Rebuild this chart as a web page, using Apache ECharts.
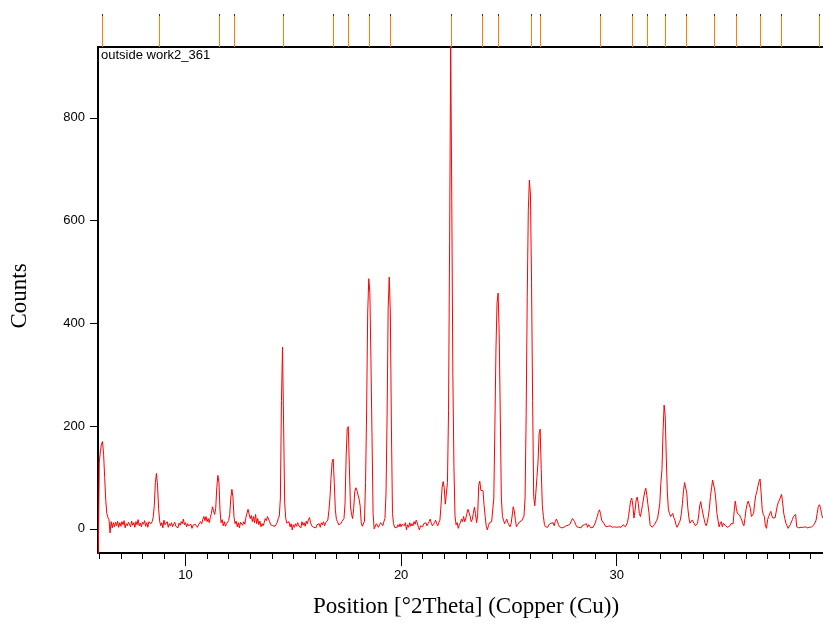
<!DOCTYPE html>
<html>
<head>
<meta charset="utf-8">
<script src="https://cdn.jsdelivr.net/npm/echarts@6/dist/echarts.min.js"></script>
<style>
html,body{margin:0;padding:0;background:#fff;}
#chart{width:823px;height:625px;}
</style>
</head>
<body>
<div id="chart"></div>
<script>
// Scan: start angle and step of the diffractometer (°2Theta)
const twoThetaStart = 5.95;
const twoThetaStep = 0.05;
// Counts, one value per step
const counts = [
-60,130,150,165,170,145,100,55,30,22,18,-8,14,2,12,4,13,6,15,3,
12,5,14,8,16,2,10,6,13,9,4,15,7,12,3,14,8,18,6,11,
4,13,9,16,5,12,3,14,11,10,14,22,45,90,108,85,40,15,6,12,
2,17,8,5,14,3,10,6,12,4,9,13,5,8,2,11,7,14,10,19,
8,12,4,10,6,3,9,1,7,4,9,6,3,8,11,14,10,18,24,16,
24,14,20,12,22,30,43,35,28,40,80,104,90,35,12,18,6,14,5,10,
8,16,28,60,77,62,22,10,15,4,12,2,13,11,7,14,9,22,30,38,
35,20,26,14,24,12,28,10,20,8,15,4,10,6,12,20,16,24,26,14,
8,10,6,9,5,8,12,20,25,60,250,354,200,50,20,11,8,14,4,10,
-2,8,3,10,5,12,6,9,2,14,7,12,5,15,10,18,22,12,6,9,
3,6,2,8,5,10,3,12,8,14,6,12,10,17,35,60,100,130,136,90,
37,18,14,8,6,10,14,12,20,50,140,195,199,120,45,28,20,40,72,80,
75,66,58,45,12,5,4,15,90,230,420,487,460,330,180,30,0,-2,10,8,
3,8,12,11,6,14,20,70,220,430,490,420,200,30,10,3,5,2,8,4,
10,4,9,10,6,12,-2,8,3,12,5,10,6,14,9,17,12,3,-2,6,
8,4,10,7,12,6,10,14,19,11,6,9,12,17,10,6,12,17,45,80,
92,80,48,45,90,230,560,940,640,300,120,25,8,12,1,8,12,19,14,24,
14,20,30,38,40,25,14,18,30,42,30,12,25,85,93,75,72,74,45,24,
5,-2,6,12,9,14,17,60,200,350,440,459,380,220,60,24,17,10,14,19,
12,8,4,10,25,43,35,17,4,8,10,14,11,16,19,25,60,220,450,620,
679,650,480,250,63,45,70,100,130,185,194,115,45,24,8,4,6,3,8,5,
11,8,12,6,14,19,15,8,4,6,2,5,3,1,6,3,7,4,10,16,
20,23,14,8,4,7,3,6,2,6,4,8,6,10,3,8,5,2,4,3,
6,11,18,24,32,37,30,17,14,11,8,4,1,5,8,6,3,3,2,4,
2,3,1,4,3,3,6,8,5,4,7,12,24,40,55,60,45,21,35,55,
62,50,30,24,35,47,60,72,79,65,47,30,8,5,3,6,8,11,16,21,
35,50,90,115,190,241,220,140,70,37,30,24,26,30,22,17,8,3,6,12,
17,30,50,75,90,93,70,40,21,11,14,17,19,10,6,8,11,25,45,53,
40,37,20,11,6,12,24,40,63,80,95,97,75,56,30,17,4,10,14,4,
11,8,6,6,3,1,6,10,12,10,35,54,40,30,28,27,22,17,10,6,
20,38,48,54,56,40,24,26,30,50,65,72,83,92,97,70,37,28,24,5,
1,18,24,30,34,25,21,24,22,21,45,52,56,62,67,50,30,20,11,6,
1,4,8,11,18,24,26,28,4,3,2,4,3,5,3,6,4,3,2,1,
3,2,4,4,8,12,17,30,43,47,42,30,21
];
// Reference pattern line positions (°2Theta)
const refPeaks = [6.12, 8.75, 11.53, 12.23, 14.53, 16.84, 17.53, 18.52, 19.47, 22.31,
  23.76, 24.49, 26.04, 26.45, 29.22, 30.70, 31.39, 32.24, 33.20, 34.50, 35.54, 36.66, 37.61, 39.39];
// Axis ticks
const yTicks = [0, 200, 400, 600, 800];
const xMajorTicks = [10, 20, 30];
const xMinorTicks = [6,7,8,9,11,12,13,14,15,16,17,18,19,21,22,23,24,25,26,27,28,29,31,32,33,34,35,36,37,38,39];
const xRange = [5.94, 39.57];
const yRange = [-47, 938];
const sampleName = 'outside work2_361';
const xTitle = 'Position [°2Theta] (Copper (Cu))';
const yTitle = 'Counts';

const lineData = counts.map((c, i) => [+(twoThetaStart + i * twoThetaStep).toFixed(3), c]);

const chart = echarts.init(document.getElementById('chart'), null, {renderer: 'canvas'});
const sans = 'Liberation Sans, Arial, sans-serif';
const serif = 'Liberation Serif, Times New Roman, serif';

chart.setOption({
  animation: false,
  backgroundColor: '#fff',
  grid: [
    {left: 98, top: 47, width: 726, height: 506},
    {left: 98, top: 14, width: 726, height: 33}
  ],
  xAxis: [
    {gridIndex: 0, type: 'value', min: xRange[0], max: xRange[1], position: 'bottom',
      axisLine: {onZero: false, lineStyle: {color: '#000', width: 2}},
      axisTick: {show: true, customValues: xMinorTicks, length: 6, lineStyle: {color: '#000', width: 1}},
      axisLabel: {show: false}, splitLine: {show: false}},
    {gridIndex: 0, type: 'value', min: xRange[0], max: xRange[1], position: 'bottom',
      axisLine: {show: false, onZero: false},
      axisTick: {show: true, customValues: xMajorTicks, length: 13, lineStyle: {color: '#000', width: 1}},
      axisLabel: {show: true, customValues: xMajorTicks, margin: 16, fontSize: 13, color: '#000', fontFamily: sans},
      splitLine: {show: false}},
    {gridIndex: 0, type: 'value', min: xRange[0], max: xRange[1], position: 'top',
      axisLine: {onZero: false, lineStyle: {color: '#000', width: 2}},
      axisTick: {show: false}, axisLabel: {show: false}, splitLine: {show: false}},
    {gridIndex: 1, type: 'value', min: xRange[0], max: xRange[1], show: false}
  ],
  yAxis: [
    {gridIndex: 0, type: 'value', min: yRange[0], max: yRange[1], position: 'left',
      axisLine: {show: true, onZero: false, lineStyle: {color: '#000', width: 2}},
      axisTick: {show: true, customValues: yTicks, length: 8, lineStyle: {color: '#000', width: 1}},
      axisLabel: {show: true, customValues: yTicks, margin: 13, fontSize: 13, color: '#000', fontFamily: sans},
      splitLine: {show: false}},
    {gridIndex: 1, type: 'value', min: 0, max: 1, show: false}
  ],
  graphic: [
    {type: 'text', left: 101, top: 49, style: {text: sampleName, font: '13px ' + sans, fill: '#000'}},
    {type: 'text', x: 466, y: 607, style: {text: xTitle, font: '23px ' + serif, fill: '#000', align: 'center', verticalAlign: 'middle'}},
    {type: 'text', x: 20, y: 296, rotation: Math.PI / 2, style: {text: yTitle, font: '23px ' + serif, fill: '#000', align: 'center', verticalAlign: 'middle'}}
  ],
  series: [
    {type: 'line', xAxisIndex: 0, yAxisIndex: 0, data: lineData, showSymbol: false, symbol: 'none',
      clip: true, silent: true, sampling: null,
      lineStyle: {color: '#ff0000', width: 1}},
    {type: 'custom', xAxisIndex: 3, yAxisIndex: 1, clip: false, silent: true,
      data: refPeaks.map(v => [v]),
      encode: {x: 0},
      renderItem: function (params, api) {
        const top = api.coord([api.value(0), 1]);
        const bot = api.coord([api.value(0), 0]);
        const x = Math.round(top[0]) + 0.5;
        return {type: 'group', children: [
          {type: 'line', shape: {x1: x, y1: top[1] + 1, x2: x, y2: bot[1]}, style: {stroke: '#ff8000', lineWidth: 1}},
          {type: 'rect', shape: {x: x - 0.5, y: top[1], width: 1, height: 2}, style: {fill: '#333'}}
        ]};
      }}
  ]
});
</script>
</body>
</html>
